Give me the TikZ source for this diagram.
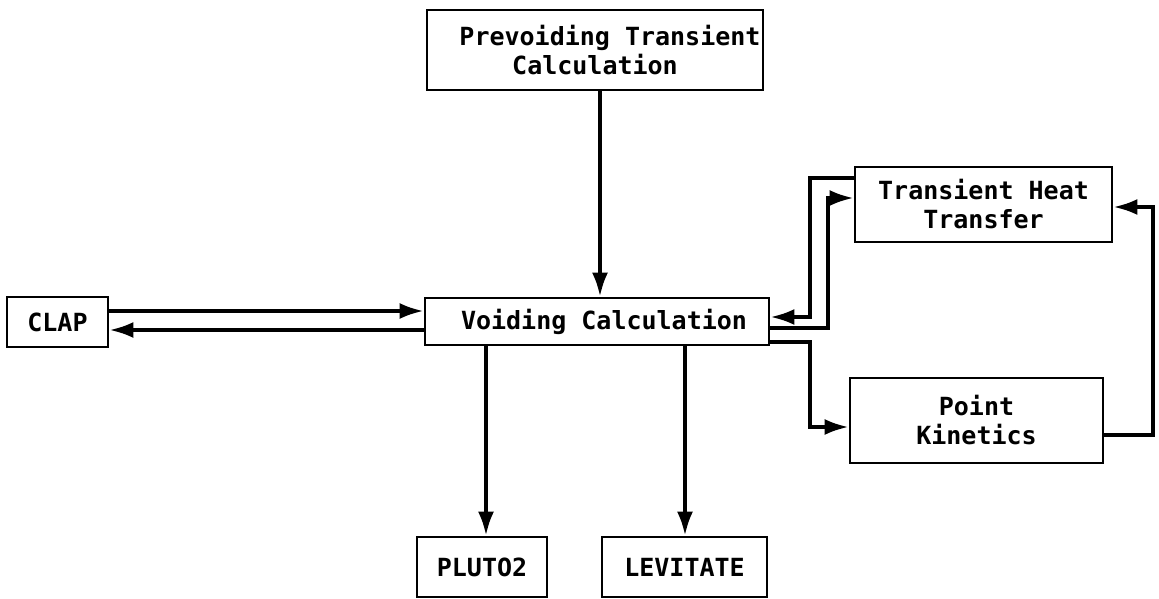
\documentclass[tikz,border=0pt]{standalone}
\usepackage{fontspec}
\setmonofont{DejaVu Sans Mono}
\usetikzlibrary{arrows.meta,calc}
\begin{document}
\begin{tikzpicture}[x=1pt,y=-1pt,
  box/.style={draw,line width=2.8pt,rectangle,inner sep=0pt,align=center,
    font=\ttfamily\bfseries\fontsize{25}{29}\selectfont},
  arr/.style={line width=3.6pt,-{Latex[length=24pt,width=16pt]}}]
\useasboundingbox (0,0) rectangle (1159,599);
\node[box,minimum width=336,minimum height=80] (prev) at (595,50) {\hspace*{30pt}Prevoiding Transient\\Calculation};
\node[box,minimum width=257,minimum height=75] (tht) at (983.5,204.5) {Transient Heat\\Transfer};
\node[box,minimum width=344,minimum height=47] (void) at (597,321.5) {\hspace*{14pt}Voiding Calculation};
\node[box,minimum width=101,minimum height=50] (clap) at (57.5,322) {CLAP};
\node[box,minimum width=253,minimum height=85] (pk) at (976.5,420.5) {Point\\Kinetics};
\node[box,minimum width=130,minimum height=60] (pluto) at (482,567) {PLUTO2};
\node[box,minimum width=165,minimum height=60] (lev) at (684.5,567) {LEVITATE};
% connectors
\draw[arr] (prev.south -| 600,0) -- (void.north -| 600,0);
\draw[arr] (clap.east |- 0,311) -- (void.west |- 0,311);
\draw[arr] (void.west |- 0,330) -- (clap.east |- 0,330);
\draw[arr] (tht.west |- 0,178) -- (810,178) -- (810,317) -- (void.east |- 0,317);
\draw[arr] (void.east |- 0,328) -- (828,328) -- (828,198) -- (tht.west |- 0,198);
\draw[arr] (void.east |- 0,342) -- (810,342) -- (810,427) -- (pk.west |- 0,427);
\draw[arr] (pk.east |- 0,435) -- (1153,435) -- (1153,207) -- (tht.east |- 0,207);
\draw[arr] (void.south -| 486,0) -- (pluto.north -| 486,0);
\draw[arr] (void.south -| 685,0) -- (lev.north -| 685,0);
\end{tikzpicture}
\end{document}
